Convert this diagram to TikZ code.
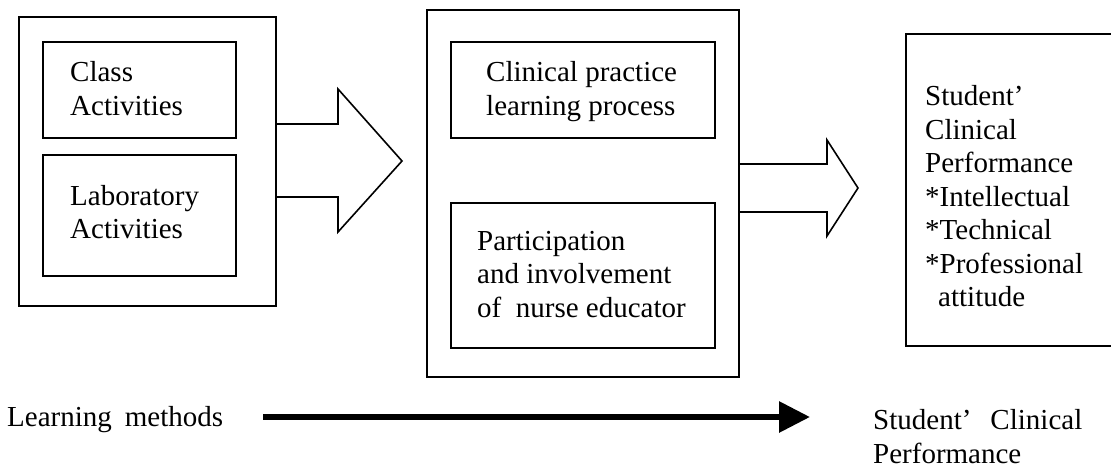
\documentclass[tikz,border=0pt]{standalone}
\usepackage{fontspec}
\setmainfont{Liberation Serif}
\usetikzlibrary{arrows.meta}
\begin{document}
\begin{tikzpicture}[x=1pt,y=-1pt,
  box/.style={draw, line width=1.6pt, anchor=north west, inner sep=0pt},
  txt/.style={font=\fontsize{29}{33.5}\selectfont, anchor=base west, inner sep=0pt, align=left},
  fat/.style={draw, line width=1.6pt, line join=miter},
]
\useasboundingbox (0,0) rectangle (1111,468);
% boxes
\node[box, minimum width=257pt, minimum height=289pt] (left) at (18,16) {};
\node[box, minimum width=193pt, minimum height=96pt] (cls) at (42,41) {};
\node[box, minimum width=193pt, minimum height=121pt] (lab) at (42,154) {};
\node[box, minimum width=312pt, minimum height=367pt] (mid) at (426,9) {};
\node[box, minimum width=264pt, minimum height=96pt] (cpl) at (450,41) {};
\node[box, minimum width=264pt, minimum height=145pt] (par) at (450,202) {};
\node[box, minimum width=220pt, minimum height=312pt] (perf) at (905,33) {};
% block arrows
\draw[fat] (275,124) -- (338,124) -- (338,89) -- (402,161) -- (338,232) -- (338,197) -- (275,197);
\draw[fat] (738,164) -- (827,164) -- (827,140) -- (858,188) -- (827,236) -- (827,212) -- (738,212);
% texts (anchor = baseline of last line)
\node[txt] (t1) at (70,115.5) {Class\\Activities};
\node[txt] (t2) at (70,238.5) {Laboratory\\Activities};
\node[txt] (t3) at (486,115.5) {Clinical practice\\learning process};
\node[txt] (t4) at (477,317) {Participation\\and involvement\\of\ \ nurse educator};
\node[txt] (t5) at (925,306.5) {Student’\\Clinical\\Performance\\*Intellectual\\*Technical\\*Professional\\\hspace*{13pt}attitude};
\node[txt] (t6) at (7,426) {Learning\hspace{13pt}methods};
\node[txt] (t7) at (873,463) {Student’\hspace{19pt}Clinical\\Performance};
% bottom arrow
\coordinate (b1) at (263,417);
\coordinate (b2) at (810,417);
\draw[line width=6pt, -{Triangle[length=31pt,width=30pt]}] (b1) -- (b2);
\end{tikzpicture}
\end{document}
